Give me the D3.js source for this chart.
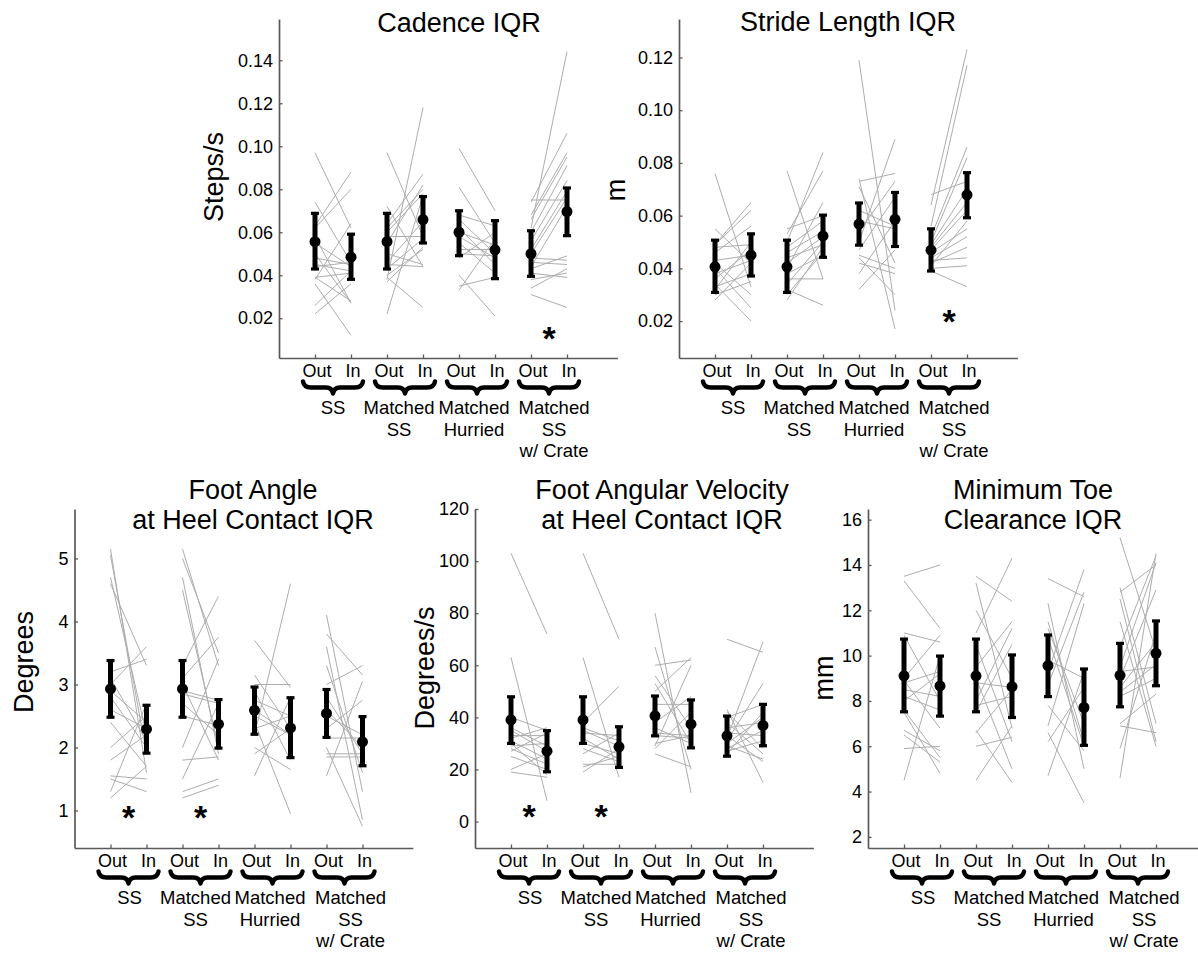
<!DOCTYPE html>
<html>
<head>
<meta charset="utf-8">
<script src="https://cdn.jsdelivr.net/npm/d3@7"></script>
<style>
  body { margin: 0; background: #fff; }
  svg { display: block; font-family: "Liberation Sans", Arial, Helvetica, sans-serif; }
</style>
</head>
<body>
<svg id="chart" width="1198" height="954"></svg>
<script>
const conditions = ["Out", "In"];
const groupLabels = [["SS"], ["Matched", "SS"], ["Matched", "Hurried"], ["Matched", "SS", "w/ Crate"]];

// Cadence IQR (steps/s)
const cadenceTicks = [0.02, 0.04, 0.06, 0.08, 0.10, 0.12, 0.14];
const cadenceMean = [0.0556, 0.0484, 0.0556, 0.0659, 0.0600, 0.0518, 0.0500, 0.0696];
const cadenceLow = [0.0429, 0.0381, 0.0429, 0.0550, 0.0491, 0.0384, 0.0395, 0.0584];
const cadenceHigh = [0.0688, 0.0591, 0.0688, 0.0766, 0.0700, 0.0654, 0.0607, 0.0806];
const cadencePairs = [
  [[0.097, 0.062], [0.074, 0.046], [0.063, 0.088], [0.062, 0.080], [0.058, 0.027], [0.055, 0.044], [0.048, 0.045], [0.045, 0.042],
   [0.044, 0.046], [0.039, 0.028], [0.039, 0.041], [0.038, 0.064], [0.036, 0.012], [0.022, 0.036], [0.026, 0.042], [0.050, 0.027]],
  [[0.097, 0.058], [0.038, 0.118], [0.072, 0.044], [0.064, 0.087], [0.062, 0.080], [0.060, 0.078], [0.058, 0.058], [0.055, 0.082],
   [0.050, 0.045], [0.046, 0.065], [0.043, 0.057], [0.040, 0.052], [0.039, 0.025], [0.037, 0.053], [0.022, 0.077], [0.045, 0.044]],
  [[0.099, 0.070], [0.081, 0.055], [0.068, 0.063], [0.066, 0.050], [0.062, 0.045], [0.060, 0.054], [0.058, 0.048], [0.055, 0.041],
   [0.052, 0.052], [0.050, 0.049], [0.048, 0.060], [0.040, 0.021], [0.033, 0.057], [0.035, 0.039]],
  [[0.062, 0.144], [0.075, 0.075], [0.074, 0.106], [0.068, 0.097], [0.066, 0.095], [0.060, 0.091], [0.056, 0.084], [0.052, 0.079],
   [0.050, 0.076], [0.048, 0.047], [0.046, 0.045], [0.043, 0.049], [0.041, 0.039], [0.038, 0.041], [0.034, 0.043], [0.031, 0.025], [0.044, 0.072]],
];
const cadenceStars = [3];

// Stride length IQR (m)
const strideTicks = [0.02, 0.04, 0.06, 0.08, 0.10, 0.12];
const strideMean = [0.0406, 0.0450, 0.0406, 0.0523, 0.0568, 0.0586, 0.0469, 0.0679];
const strideLow = [0.0309, 0.0371, 0.0309, 0.0442, 0.0488, 0.0483, 0.0390, 0.0592];
const strideHigh = [0.0507, 0.0531, 0.0507, 0.0602, 0.0648, 0.0688, 0.0550, 0.0763];
const stridePairs = [
  [[0.076, 0.033], [0.055, 0.042], [0.049, 0.065], [0.049, 0.062], [0.048, 0.049], [0.046, 0.056], [0.043, 0.045], [0.042, 0.030],
   [0.040, 0.025], [0.038, 0.043], [0.036, 0.047], [0.034, 0.020], [0.032, 0.050], [0.030, 0.035], [0.028, 0.042], [0.033, 0.038]],
  [[0.077, 0.036], [0.055, 0.060], [0.053, 0.077], [0.050, 0.084], [0.048, 0.058], [0.046, 0.054], [0.044, 0.049], [0.042, 0.052],
   [0.040, 0.065], [0.038, 0.045], [0.036, 0.036], [0.034, 0.050], [0.032, 0.026], [0.030, 0.046], [0.028, 0.048]],
  [[0.119, 0.024], [0.073, 0.076], [0.074, 0.017], [0.071, 0.042], [0.062, 0.056], [0.058, 0.055], [0.054, 0.073], [0.050, 0.089],
   [0.047, 0.067], [0.045, 0.040], [0.042, 0.038], [0.038, 0.058], [0.032, 0.047], [0.044, 0.030]],
  [[0.068, 0.073], [0.064, 0.123], [0.056, 0.117], [0.052, 0.086], [0.050, 0.082], [0.049, 0.070], [0.048, 0.065], [0.047, 0.062],
   [0.046, 0.055], [0.044, 0.052], [0.042, 0.048], [0.041, 0.058], [0.040, 0.041], [0.039, 0.033], [0.043, 0.044]],
];
const strideStars = [3];

// Foot angle at heel contact IQR (degrees)
const angleTicks = [1, 2, 3, 4, 5];
const angleMean = [2.93, 2.29, 2.93, 2.37, 2.59, 2.31, 2.54, 2.09];
const angleLow = [2.48, 1.91, 2.48, 1.99, 2.21, 1.84, 2.16, 1.71];
const angleHigh = [3.38, 2.67, 3.38, 2.76, 2.96, 2.79, 2.92, 2.49];
const anglePairs = [
  [[5.15, 1.6], [5.05, 1.9], [4.7, 2.2], [3.0, 3.6], [3.2, 3.4], [3.1, 2.1], [2.9, 2.4], [2.8, 2.0], [2.6, 2.3],
   [2.4, 1.7], [2.0, 2.5], [1.8, 2.2], [1.55, 1.5], [1.5, 1.3], [1.3, 2.7], [1.2, 1.7], [4.6, 3.3]],
  [[5.15, 3.3], [5.0, 3.5], [4.7, 1.9], [4.5, 2.0], [3.3, 4.4], [3.1, 3.75], [2.9, 2.75], [2.85, 2.7], [2.7, 2.2],
   [2.5, 2.35], [2.0, 3.4], [1.8, 1.85], [1.5, 2.7], [1.3, 1.5], [1.2, 1.4], [3.0, 1.8]],
  [[3.7, 2.95], [3.15, 2.3], [3.0, 3.0], [2.9, 1.8], [2.75, 2.5], [2.6, 2.2], [2.5, 2.2], [2.3, 2.5], [2.2, 4.6],
   [1.9, 2.3], [1.55, 2.8], [2.4, 0.95], [2.0, 1.65]],
  [[4.1, 1.3], [3.8, 3.15], [3.6, 0.85], [3.3, 1.6], [3.0, 3.3], [2.8, 1.9], [2.5, 2.2], [2.3, 2.75], [2.15, 2.15],
   [1.9, 1.9], [1.85, 1.85], [1.55, 3.05], [2.0, 0.75], [2.6, 2.0]],
];
const angleStars = [0, 1];

// Foot angular velocity at heel contact IQR (degrees/s)
const velocityTicks = [0, 20, 40, 60, 80, 100, 120];
const velocityMean = [39.0, 27.0, 39.0, 28.7, 40.6, 37.4, 32.9, 36.9];
const velocityLow = [30.0, 19.1, 30.0, 20.8, 32.9, 28.3, 25.1, 29.1];
const velocityHigh = [47.9, 34.9, 47.9, 36.4, 48.2, 46.7, 40.5, 45.0];
const velocityPairs = [
  [[103, 72], [63, 8], [40, 35], [36, 29], [33, 33], [31, 24], [30, 18], [29, 30], [28, 22], [27, 34],
   [20, 26], [19, 17], [25, 20], [32, 36], [35, 27]],
  [[103, 70], [63, 17], [38, 52], [36, 31], [34, 33], [32, 24], [30, 26], [28, 23], [26, 34], [22, 22],
   [19, 28], [21, 25], [35, 29]],
  [[80, 11], [67, 20], [60, 62], [56, 36], [53, 30], [50, 63], [45, 45], [38, 48], [36, 30], [34, 33],
   [33, 32], [30, 33], [28, 42], [26, 21], [29, 60]],
  [[70, 65], [43, 15], [42, 28], [40, 45], [38, 26], [36, 38], [34, 33], [32, 69], [31, 53], [30, 40],
   [29, 24], [28, 35], [27, 31], [26, 42], [33, 23]],
];
const velocityStars = [0, 1];

// Minimum toe clearance IQR (mm)
const clearanceTicks = [2, 4, 6, 8, 10, 12, 14, 16];
const clearanceMean = [9.11, 8.66, 9.11, 8.63, 9.56, 7.71, 9.13, 10.10];
const clearanceLow = [7.52, 7.33, 7.52, 7.27, 8.19, 6.04, 7.74, 8.67];
const clearanceHigh = [10.73, 9.98, 10.73, 10.03, 10.91, 9.41, 10.54, 11.53];
const clearancePairs = [
  [[13.5, 14.0], [13.3, 11.2], [11.0, 10.6], [10.9, 8.0], [9.0, 10.9], [8.9, 6.8], [8.8, 9.3], [8.5, 8.2],
   [8.0, 9.2], [7.6, 5.5], [6.7, 5.8], [6.5, 5.3], [5.9, 6.0], [4.5, 10.0], [7.5, 4.8], [8.2, 7.6]],
  [[13.5, 12.4], [13.2, 6.8], [11.0, 14.3], [10.5, 6.2], [9.5, 11.5], [8.8, 8.6], [8.0, 11.2], [7.5, 10.5],
   [6.7, 4.4], [6.6, 8.5], [6.0, 6.4], [4.5, 6.9], [9.0, 5.0], [12.0, 9.0], [7.8, 8.2]],
  [[13.4, 12.6], [12.3, 5.0], [11.2, 7.0], [10.8, 6.0], [9.8, 9.0], [9.3, 13.8], [8.7, 12.8], [7.8, 5.8],
   [6.9, 12.3], [6.6, 3.5], [6.2, 8.6], [4.7, 9.3], [11.5, 6.2]],
  [[15.2, 10.2], [13.0, 7.0], [12.8, 14.0], [11.5, 6.0], [10.4, 14.4], [9.5, 14.1], [9.3, 9.5], [9.0, 12.9],
   [8.6, 10.6], [8.4, 9.6], [8.2, 9.0], [7.0, 8.3], [6.9, 6.6], [5.9, 11.0], [4.6, 14.5], [12.5, 6.2]],
];
const clearanceStars = [];

const panels = [
  { title: ["Cadence IQR"], yLabel: "Steps/s", ticks: cadenceTicks, fmt: ".2f",
    mean: cadenceMean, low: cadenceLow, high: cadenceHigh, pairs: cadencePairs, stars: cadenceStars, starY: 0.0136,
    left: 279, top: 19, bottom: 358, domain: [0.0015, 0.1592],
    titleX: 459, titleY: 32, labelX: 223, labelY: 177, groupShift: [0, -6, -3, 5] },
  { title: ["Stride Length IQR"], yLabel: "m", ticks: strideTicks, fmt: ".2f",
    mean: strideMean, low: strideLow, high: strideHigh, pairs: stridePairs, stars: strideStars, starY: 0.0223,
    left: 679, top: 19, bottom: 358, domain: [0.006, 0.1346],
    titleX: 848, titleY: 31, labelX: 625, labelY: 190, groupShift: [0, -6, -3, 5] },
  { title: ["Foot Angle", "at Heel Contact IQR"], yLabel: "Degrees", ticks: angleTicks, fmt: "d",
    mean: angleMean, low: angleLow, high: angleHigh, pairs: anglePairs, stars: angleStars, starY: 1.0,
    left: 74.5, top: 509, bottom: 848, domain: [0.405, 5.785],
    titleX: 253, titleY: 499, labelX: 33, labelY: 662, groupShift: [1, -5, -2.5, 6] },
  { title: ["Foot Angular Velocity", "at Heel Contact IQR"], yLabel: "Degrees/s", ticks: velocityTicks, fmt: "d",
    mean: velocityMean, low: velocityLow, high: velocityHigh, pairs: velocityPairs, stars: velocityStars, starY: 4.3,
    left: 475, top: 509, bottom: 848, domain: [-10.15, 120],
    titleX: 662, titleY: 499, labelX: 434, labelY: 668, groupShift: [1, -5, -2.5, 6] },
  { title: ["Minimum Toe", "Clearance IQR"], yLabel: "mm", ticks: clearanceTicks, fmt: "d",
    mean: clearanceMean, low: clearanceLow, high: clearanceHigh, pairs: clearancePairs, stars: clearanceStars, starY: 1,
    left: 868, top: 509, bottom: 848, domain: [1.51, 16.47],
    titleX: 1033, titleY: 499, labelX: 833, labelY: 678, groupShift: [1, -5, -2.5, 6] },
];

const svg = d3.select("#chart");
const AXIS = "#5a5a5a";

// horizontal curly brace, opening upward
function bracePath(xl, xr, y0) {
  const xc = (xl + xr) / 2;
  const y1 = y0 + 6;
  const y2 = y0 + 12;
  const p = d3.path();
  p.moveTo(xl, y0);
  p.quadraticCurveTo(xl + 1, y1, xl + 8, y1);
  p.lineTo(xc - 7, y1);
  p.quadraticCurveTo(xc - 1, y1, xc, y2);
  p.quadraticCurveTo(xc + 1, y1, xc + 7, y1);
  p.lineTo(xr - 8, y1);
  p.quadraticCurveTo(xr - 1, y1, xr, y0);
  return p.toString();
}

panels.forEach((panel) => {
  const g = svg.append("g");
  const x = d3.scaleLinear().domain([0, 9.4]).range([panel.left, panel.left + 36 * 9.4]);
  const y = d3.scaleLinear().domain(panel.domain).range([panel.bottom, panel.top]);
  const pos = (group, cond) => 1 + group * 2 + cond;

  // axes
  const yAxis = g.append("g")
    .attr("transform", `translate(${panel.left},0)`)
    .call(d3.axisLeft(y).tickValues(panel.ticks).tickFormat(d3.format(panel.fmt))
      .tickSizeInner(-3.5).tickSizeOuter(0).tickPadding(6));
  yAxis.select(".domain").attr("stroke", AXIS).attr("stroke-width", 1.7);
  yAxis.selectAll(".tick line").attr("stroke", AXIS).attr("stroke-width", 1.3);
  yAxis.selectAll(".tick text").attr("font-size", 18).attr("fill", "#000")
    .attr("font-family", "Liberation Sans, Arial, sans-serif");

  const xAxis = g.append("g")
    .attr("transform", `translate(0,${panel.bottom})`)
    .call(d3.axisBottom(x).tickValues(d3.range(1, 9)).tickFormat("")
      .tickSizeInner(-3.5).tickSizeOuter(0));
  xAxis.select(".domain").attr("stroke", AXIS).attr("stroke-width", 1.7);
  xAxis.selectAll(".tick line").attr("stroke", AXIS).attr("stroke-width", 1.3);

  // subject lines
  panel.pairs.forEach((pairs, gi) => {
    g.append("g").selectAll("line")
      .data(pairs)
      .join("line")
      .attr("x1", x(pos(gi, 0)))
      .attr("x2", x(pos(gi, 1)))
      .attr("y1", (d) => y(d[0]))
      .attr("y2", (d) => y(d[1]))
      .attr("stroke", "#adadad")
      .attr("stroke-width", 1);
  });

  // error bars + means
  const idx = d3.range(panel.mean.length);
  const bars = g.append("g").selectAll("g").data(idx).join("g");
  bars.append("line")
    .attr("x1", (i) => x(i + 1)).attr("x2", (i) => x(i + 1))
    .attr("y1", (i) => y(panel.low[i])).attr("y2", (i) => y(panel.high[i]))
    .attr("stroke", "#000").attr("stroke-width", 5);
  ["low", "high"].forEach((key) => {
    bars.append("line")
      .attr("x1", (i) => x(i + 1) - 4).attr("x2", (i) => x(i + 1) + 4)
      .attr("y1", (i) => y(panel[key][i])).attr("y2", (i) => y(panel[key][i]))
      .attr("stroke", "#000").attr("stroke-width", 3.2);
  });
  bars.append("circle")
    .attr("cx", (i) => x(i + 1))
    .attr("cy", (i) => y(panel.mean[i]))
    .attr("r", 5.5)
    .attr("fill", "#000");

  // significance stars
  g.selectAll(".star")
    .data(panel.stars)
    .join("text")
    .attr("class", "star")
    .attr("x", (gi) => x(pos(gi, 0) + 0.5))
    .attr("y", y(panel.starY) + 18)
    .attr("text-anchor", "middle")
    .attr("font-size", 34)
    .attr("font-weight", "bold")
    .text("*");

  // condition labels and braces
  groupLabels.forEach((lines, gi) => {
    conditions.forEach((c, ci) => {
      g.append("text")
        .attr("x", x(pos(gi, ci)) + 2)
        .attr("y", panel.bottom + 18.5)
        .attr("text-anchor", "middle")
        .attr("font-size", 18)
        .text(c);
    });
    g.append("path")
      .attr("d", bracePath(x(pos(gi, 0)) - 12, x(pos(gi, 1)) + 12, panel.bottom + 23.5))
      .attr("fill", "none")
      .attr("stroke", "#000")
      .attr("stroke-width", 4.5)
      .attr("stroke-linecap", "round")
      .attr("stroke-linejoin", "round");
    const cx = x(pos(gi, 0) + 0.5) + panel.groupShift[gi];
    lines.forEach((t, li) => {
      g.append("text")
        .attr("x", cx)
        .attr("y", panel.bottom + 56 + li * 21.5)
        .attr("text-anchor", "middle")
        .attr("font-size", 18.5)
        .text(t);
    });
  });

  // title
  panel.title.forEach((t, li) => {
    g.append("text")
      .attr("x", panel.titleX)
      .attr("y", panel.titleY + li * 30)
      .attr("text-anchor", "middle")
      .attr("font-size", 27)
      .text(t);
  });

  // y label
  g.append("text")
    .attr("transform", `translate(${panel.labelX},${panel.labelY}) rotate(-90)`)
    .attr("text-anchor", "middle")
    .attr("font-size", 27)
    .text(panel.yLabel);
});
</script>
</body>
</html>
